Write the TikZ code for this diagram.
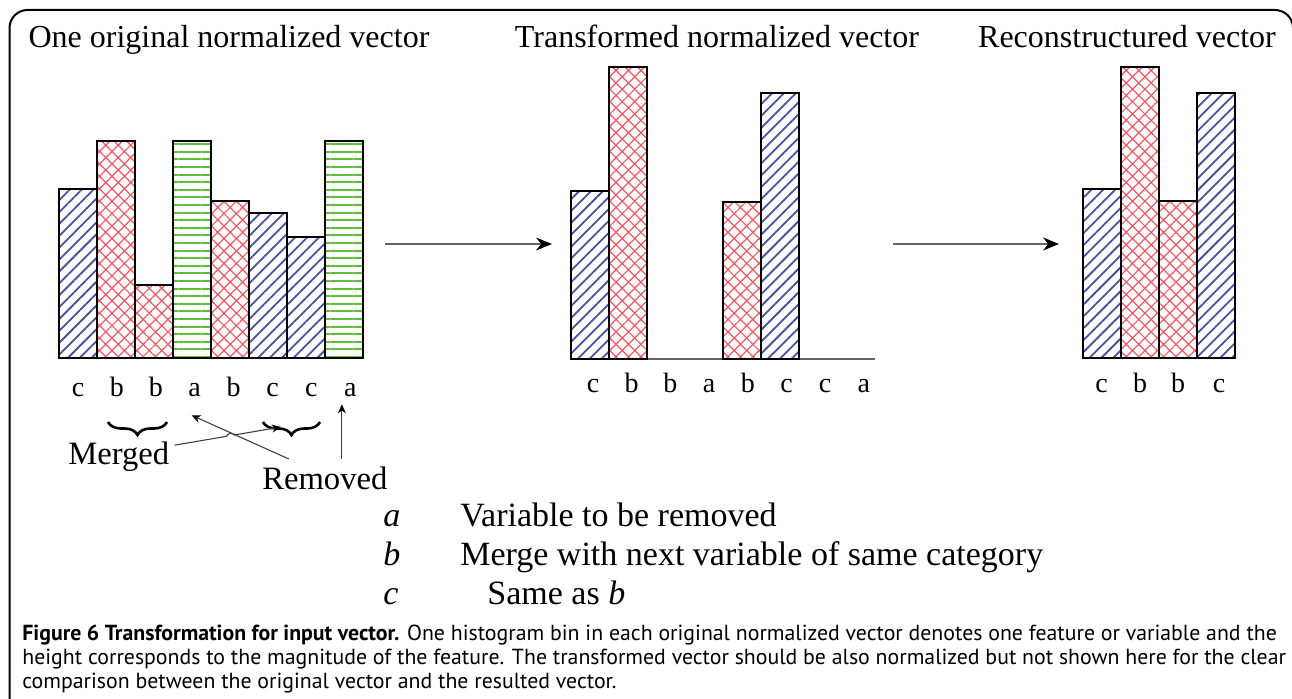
\documentclass[tikz,border=0pt]{standalone}
\usepackage{fontspec}
\setmainfont{Liberation Serif}
\newfontfamily\capfont{PT Sans}
\usetikzlibrary{patterns.meta,arrows.meta,decorations.pathreplacing,calc}

\definecolor{hatchblue}{RGB}{70,80,170}
\definecolor{hatchred}{RGB}{250,85,95}
\definecolor{hatchgreen}{RGB}{95,190,55}

\tikzset{
  bar/.style={draw=black,line width=1pt},
  barc/.style={bar,pattern={Lines[angle=45,distance=4.2pt,line width=0.9pt]},pattern color=hatchblue},
  barb/.style={bar,pattern={Hatch[angle=45,distance=4.4pt,line width=0.6pt]},pattern color=hatchred},
  bara/.style={bar,pattern={Lines[angle=0,distance=3.8pt,line width=1pt]},pattern color=hatchgreen},
  ttl/.style={font=\fontsize{16}{18}\selectfont,anchor=base},
  lbl/.style={font=\fontsize{14}{16}\selectfont,anchor=base},
  note/.style={font=\fontsize{16.3}{18}\selectfont,anchor=base west,inner sep=0pt},
  key/.style={font=\fontsize{17}{19}\selectfont,anchor=base west,inner sep=0pt},
  flow/.style={draw=black!60,line width=0.8pt,-{Stealth[length=8pt,width=6.5pt,black]}},
  ptr/.style={draw=black!75,line width=0.55pt,-{Stealth[length=4.5pt,width=4pt,black]}},
  curly/.style={decorate,decoration={brace,amplitude=6.5pt},line width=1.3pt}
}

\begin{document}
\begin{tikzpicture}[x=0.5pt,y=-0.5pt]
  \useasboundingbox (0,0) rectangle (1292,699);
  \clip (0,0) rectangle (1292,699);
  % frame of the figure
  \draw[line width=1pt,rounded corners=9pt] (9.5,760) -- (9.5,10) -- (1293,10) -- (1293,760);

  % titles
  \node[ttl] (t1) at (229,48) {One original normalized vector};
  \node[ttl] (t2) at (717,48) {Transformed normalized vector};
  \node[ttl] (t3) at (1127,48) {Reconstructured vector};

  % original vector
  \foreach \i/\h/\s in {0/189/barc,1/141/barb,2/285/barb,3/141/bara,4/201/barb,5/213/barc,6/237/barc,7/141/bara}
    \draw[\s] ({59.3+37.9*\i},358) rectangle ({97.2+37.9*\i},\h);
  \foreach \l [count=\k] in {c,b,b,a,b,c,c,a}
    \node[lbl] (lo\k) at ({78+38.9*(\k-1)},397) {\l};

  % transformed vector
  \draw[black!60,line width=0.6pt] (570,359) -- (875,359);
  \foreach \i/\h/\s in {0/191/barc,1/67/barb,4/202/barb,5/93/barc}
    \draw[\s] ({570.7+38*\i},359) rectangle ({608.7+38*\i},\h);
  \foreach \l [count=\k] in {c,b,b,a,b,c,c,a}
    \node[lbl] (lt\k) at ({593+38.7*(\k-1)},393) {\l};

  % reconstructed vector
  \foreach \i/\h/\s in {0/189/barc,1/67/barb,2/201/barb,3/93/barc}
    \draw[\s] ({1082.7+38.1*\i},358) rectangle ({1120.8+38.1*\i},\h);
  \foreach \l/\x [count=\k] in {c/1101.7,b/1140,b/1178,c/1219}
    \node[lbl] (lr\k) at (\x,393) {\l};

  % arrows between the vectors
  \coordinate (f1a) at (385,244);
  \coordinate (f1b) at (552,244);
  \coordinate (f2a) at (893,244);
  \coordinate (f2b) at (1059,244);
  \draw[flow] (f1a) -- (f1b);
  \draw[flow] (f2a) -- (f2b);

  % merged and removed bins
  \draw[curly] (167,422) -- (108,422);
  \draw[curly] (320,422) -- (263,422);
  \coordinate (brc) at (281,427);
  \node[note] (merged) at (68,465) {Merged};
  \node[note] (removed) at (262,490) {Removed};

  \draw[ptr] ([xshift=-18pt,yshift=4pt]removed.north) -- ($(lo4.south)+(-3,11)$);
  \draw[ptr] ([xshift=8.5pt,yshift=4pt]removed.north) -- ([xshift=8.5pt]removed.north |- lo8.south);
  % merged line hops over the removed line
  \coordinate (m0) at ($(merged.east)+(5,-12)$);
  \draw[ptr] (m0) -- ($(m0)!0.49!(brc)$) to[bend left=90] ($(m0)!0.56!(brc)$) -- (brc);

  % key
  \node[key] (ka) at (383,527) {\textit{a}};
  \node[key] (kat) at (460,527) {Variable to be removed};
  \node[key] (kb) at (383,566) {\textit{b}};
  \node[key] (kbt) at (460,566) {Merge with next variable of same category};
  \node[key] (kc) at (383,605) {\textit{c}};
  \node[key] (kct) at (487,605) {Same as \textit{b}};

  % caption
  \node[anchor=base west,align=left,inner sep=0pt,font=\capfont\fontsize{10.9}{12}\selectfont] (cap) at (22,689)
    {\textbf{Figure 6 Transformation for input vector.} One histogram bin in each original normalized vector denotes one feature or variable and the\\
     height corresponds to the magnitude of the feature. The transformed vector should be also normalized but not shown here for the clear\\
     comparison between the original vector and the resulted vector.};
\end{tikzpicture}
\end{document}
